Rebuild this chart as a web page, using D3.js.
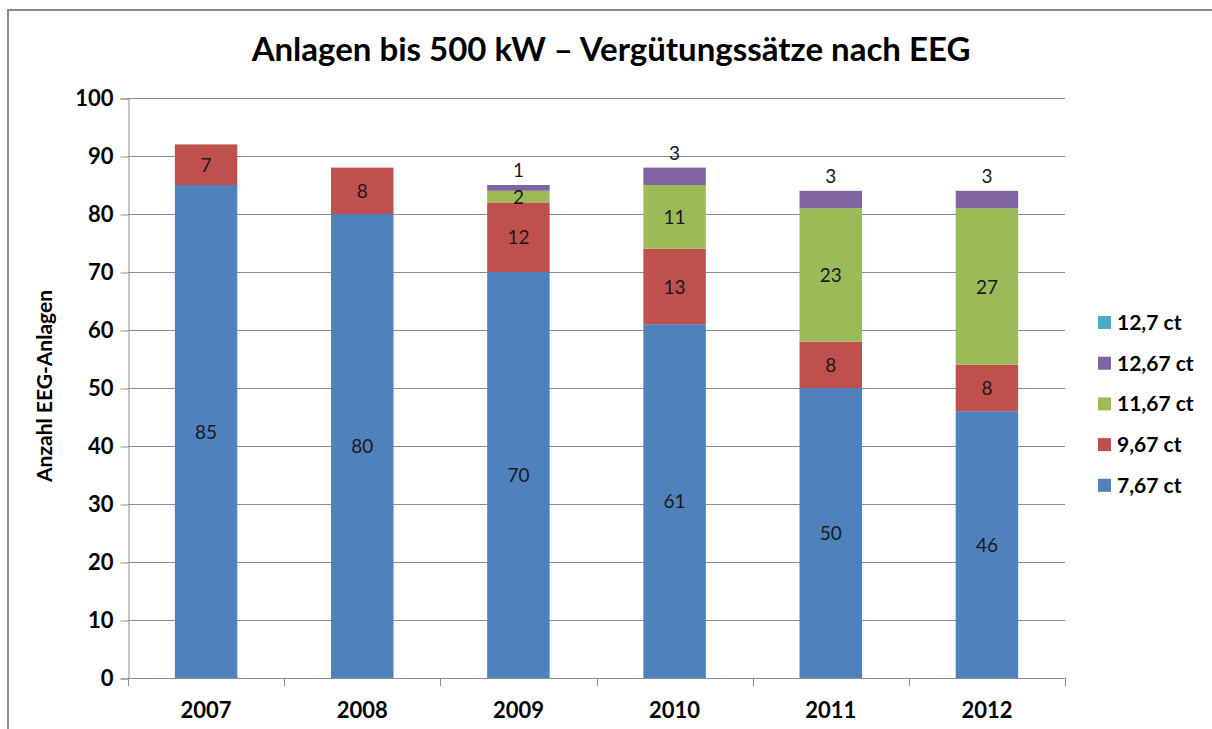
<!DOCTYPE html>
<html>
<head>
<meta charset="utf-8">
<script src="https://cdn.jsdelivr.net/npm/d3@7"></script>
<style>
  body { margin: 0; background: #fff; }
  svg { display: block; font-family: Lato, "Open Sans", sans-serif; }
</style>
</head>
<body>
<div id="chart"></div>
<script>
var years = ["2007", "2008", "2009", "2010", "2011", "2012"];
var seriesNames = ["7,67 ct", "9,67 ct", "11,67 ct", "12,67 ct", "12,7 ct"];
var colors = ["#4f81bd", "#c0504d", "#9bbb59", "#8064a2", "#4bacc6"];
var values767 = [85, 80, 70, 61, 50, 46];
var values967 = [7, 8, 12, 13, 8, 8];
var values1167 = [0, 0, 2, 11, 23, 27];
var values1267 = [0, 0, 1, 3, 3, 3];
var values127 = [0, 0, 0, 0, 0, 0];
var yTicks = [0, 10, 20, 30, 40, 50, 60, 70, 80, 90, 100];

var width = 1212;
var height = 729;
var margin = { top: 98, left: 128, right: 147, bottom: 51 };

var svg = d3
  .select("#chart")
  .append("svg")
  .attr("width", width)
  .attr("height", height);

// outer frame (cut off at right and bottom like the screenshot)
svg
  .append("rect")
  .attr("x", 8)
  .attr("y", 10)
  .attr("width", width + 20)
  .attr("height", height + 20)
  .attr("fill", "none")
  .attr("stroke", "#8c8c8c")
  .attr("stroke-width", 2);

var rows = years.map(function(y, i) {
  return {
    year: y,
    "7,67 ct": values767[i],
    "9,67 ct": values967[i],
    "11,67 ct": values1167[i],
    "12,67 ct": values1267[i],
    "12,7 ct": values127[i]
  };
});

var x = d3
  .scaleBand()
  .domain(years)
  .range([margin.left, width - margin.right])
  .paddingInner(0.6)
  .paddingOuter(0.3);

var y = d3
  .scaleLinear()
  .domain([0, 100])
  .range([height - margin.bottom, margin.top]);

var color = d3.scaleOrdinal().domain(seriesNames).range(colors);

// gridlines
svg
  .append("g")
  .selectAll("line")
  .data(yTicks.slice(1))
  .enter()
  .append("line")
  .attr("x1", margin.left)
  .attr("x2", width - margin.right)
  .attr("y1", function(d) { return Math.round(y(d)) + 0.5; })
  .attr("y2", function(d) { return Math.round(y(d)) + 0.5; })
  .attr("stroke", "#8c8c8c")
  .attr("stroke-width", 1);

// y axis
var yAxis = svg
  .append("g")
  .attr("transform", "translate(" + (margin.left + 0.5) + ",0.5)")
  .call(d3.axisLeft(y).tickValues(yTicks).tickSize(8).tickPadding(7));
yAxis.select(".domain").attr("stroke", "#8c8c8c");
yAxis.selectAll(".tick line").attr("stroke", "#8c8c8c");
yAxis
  .selectAll(".tick text")
  .attr("font-size", 22)
  .attr("font-weight", "bold")
  .attr("fill", "#000")
  .attr("font-family", "Lato, sans-serif");

// x axis
var xEdges = d3.range(years.length + 1).map(function(i) {
  return margin.left + (i * (width - margin.right - margin.left)) / years.length;
});
var xAxis = svg.append("g");
xAxis
  .append("line")
  .attr("x1", margin.left)
  .attr("x2", width - margin.right)
  .attr("y1", Math.round(y(0)) + 0.5)
  .attr("y2", Math.round(y(0)) + 0.5)
  .attr("stroke", "#8c8c8c");
xAxis
  .selectAll(".xtick")
  .data(xEdges)
  .enter()
  .append("line")
  .attr("x1", function(d) { return Math.round(d) + 0.5; })
  .attr("x2", function(d) { return Math.round(d) + 0.5; })
  .attr("y1", Math.round(y(0)))
  .attr("y2", Math.round(y(0)) + 8)
  .attr("stroke", "#8c8c8c");
xAxis
  .selectAll("text")
  .data(years)
  .enter()
  .append("text")
  .attr("x", function(d) { return x(d) + x.bandwidth() / 2; })
  .attr("y", y(0) + 40)
  .attr("text-anchor", "middle")
  .attr("font-size", 22)
  .attr("font-weight", "bold")
  .text(function(d) { return d; });

// stacked bars
var stack = d3.stack().keys(seriesNames);
var layers = stack(rows);

var layer = svg
  .append("g")
  .selectAll("g")
  .data(layers)
  .enter()
  .append("g")
  .attr("fill", function(d) { return color(d.key); });

layer
  .selectAll("rect")
  .data(function(d) { return d; })
  .enter()
  .append("rect")
  .attr("x", function(d) { return x(d.data.year); })
  .attr("width", x.bandwidth())
  .attr("y", function(d) { return y(d[1]); })
  .attr("height", function(d) { return y(d[0]) - y(d[1]); });

// data labels
layers.forEach(function(l) {
  l.forEach(function(d) {
    var v = d[1] - d[0];
    if (v <= 0) return;
    var ly = (y(d[0]) + y(d[1])) / 2 + 7;
    if (l.key === "12,67 ct") ly = y(d[1]) - 8;
    svg
      .append("text")
      .attr("x", x(d.data.year) + x.bandwidth() / 2)
      .attr("y", ly)
      .attr("text-anchor", "middle")
      .attr("font-size", 19)
      .attr("fill", "#1a1a1a")
      .text(v);
  });
});

// title
svg
  .append("text")
  .attr("x", 611)
  .attr("y", 61)
  .attr("text-anchor", "middle")
  .attr("font-size", 33)
  .attr("font-weight", "bold")
  .text("Anlagen bis 500 kW \u2013 Verg\u00fctungss\u00e4tze nach EEG");

// y axis title
svg
  .append("text")
  .attr("transform", "translate(52,386) rotate(-90)")
  .attr("text-anchor", "middle")
  .attr("font-size", 21)
  .attr("font-weight", "bold")
  .text("Anzahl EEG-Anlagen");

// legend
var legendItem = svg
  .append("g")
  .attr("transform", "translate(1098,316)")
  .selectAll("g")
  .data(seriesNames.slice().reverse())
  .enter()
  .append("g")
  .attr("transform", function(d, i) { return "translate(0," + i * 40.7 + ")"; });

legendItem
  .append("rect")
  .attr("width", 13)
  .attr("height", 13)
  .attr("fill", function(d) { return color(d); });

legendItem
  .append("text")
  .attr("x", 19)
  .attr("y", 14)
  .attr("font-size", 21)
  .attr("font-weight", "bold")
  .text(function(d) { return d; });
</script>
</body>
</html>
